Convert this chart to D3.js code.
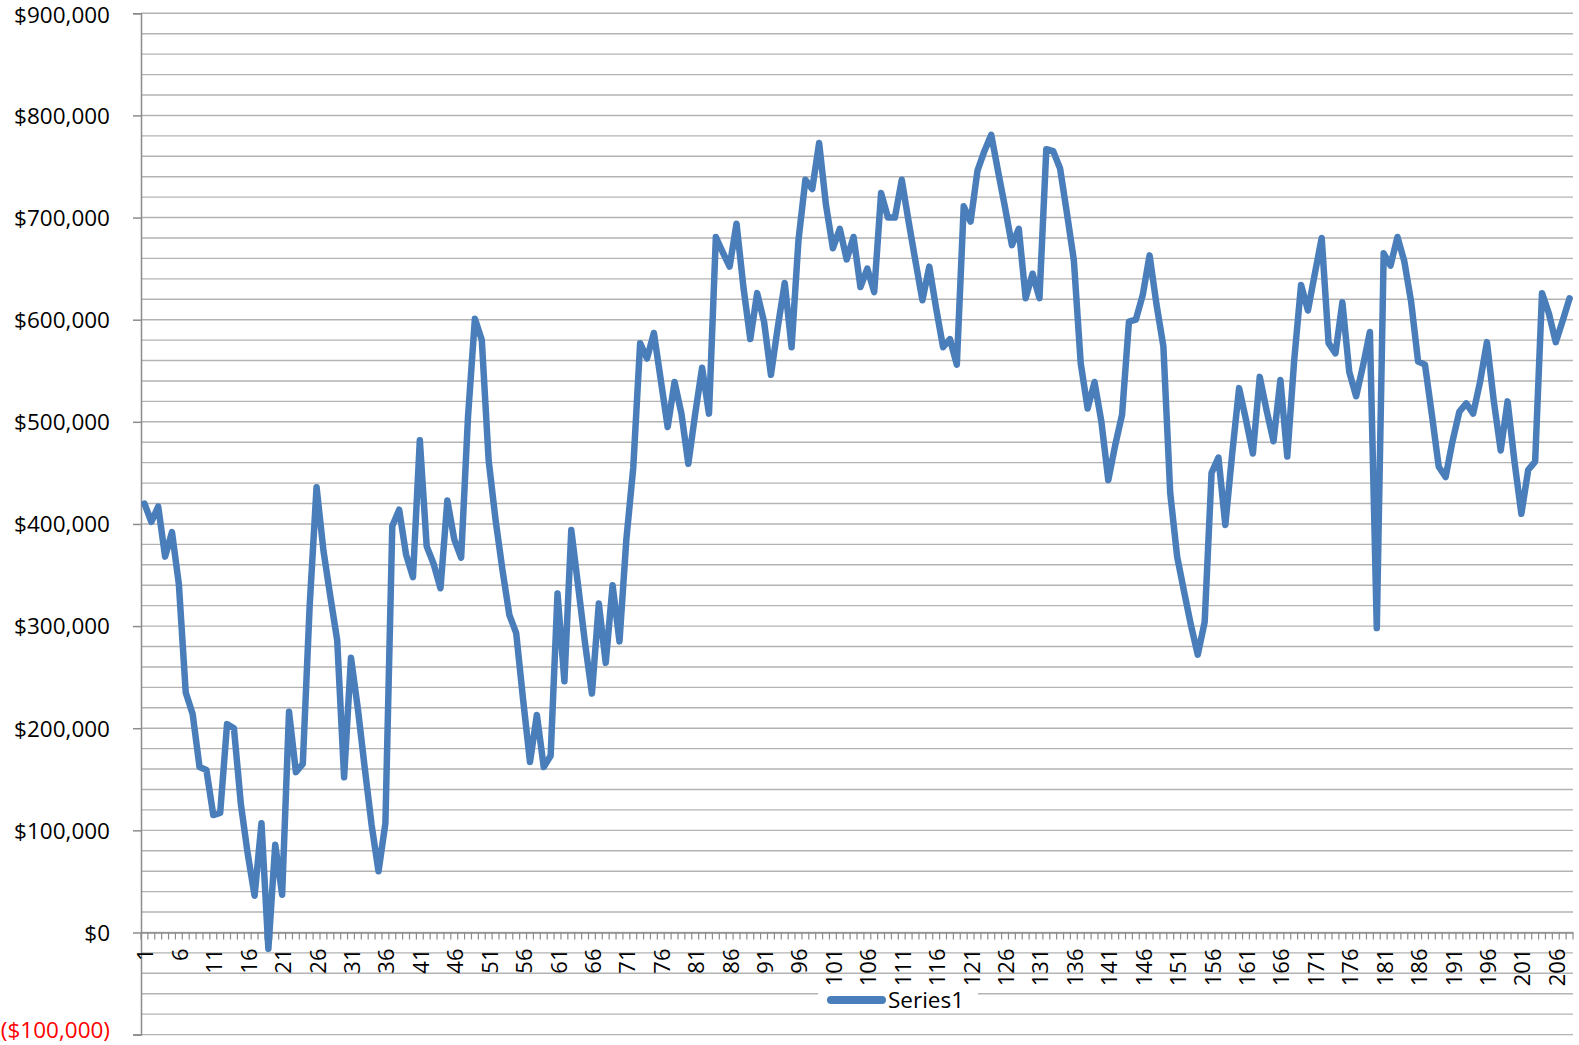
<!DOCTYPE html>
<html>
<head>
<meta charset="utf-8">
<script src="https://cdn.jsdelivr.net/npm/d3@7"></script>
<style>
  html, body { margin: 0; padding: 0; background: #fff; }
  svg { display: block; }
  text { font-family: "Open Sans", "Noto Sans", sans-serif; }
</style>
</head>
<body>
<svg id="chart" width="1579" height="1045"></svg>
<script>
// ---- data ----
const seriesName = "Series1";
const categories = d3.range(1, 209);
const series1 = [
  420000, 402000, 417000, 368000, 392000, 341000, 235000, 214000, 162000, 159000,
  115000, 117000, 204000, 200000, 126000, 77000, 36000, 107000, -16000, 86000,
  37000, 216000, 157000, 165000, 320000, 436000, 374000, 329000, 286000, 152000,
  269000, 219000, 161000, 105000, 60000, 107000, 398000, 414000, 370000, 348000,
  482000, 378000, 361000, 337000, 423000, 385000, 367000, 505000, 601000, 580000,
  462000, 404000, 355000, 311000, 293000, 228000, 167000, 213000, 162000, 173000,
  332000, 246000, 394000, 339000, 283000, 234000, 322000, 264000, 340000, 285000,
  385000, 455000, 577000, 562000, 587000, 541000, 495000, 539000, 508000, 459000,
  508000, 553000, 508000, 681000, 666000, 652000, 694000, 632000, 581000, 626000,
  598000, 546000, 593000, 636000, 573000, 678000, 737000, 728000, 773000, 712000,
  670000, 689000, 659000, 681000, 632000, 650000, 627000, 724000, 700000, 700000,
  737000, 696000, 657000, 619000, 652000, 611000, 573000, 581000, 556000, 711000,
  696000, 746000, 765000, 781000, 745000, 710000, 673000, 689000, 621000, 645000,
  621000, 767000, 765000, 748000, 704000, 658000, 557000, 513000, 539000, 500000,
  443000, 477000, 507000, 598000, 600000, 624000, 663000, 615000, 574000, 430000,
  368000, 334000, 301000, 272000, 304000, 450000, 465000, 399000, 469000, 533000,
  502000, 469000, 544000, 511000, 481000, 541000, 466000, 560000, 634000, 609000,
  645000, 680000, 577000, 567000, 617000, 549000, 525000, 555000, 588000, 298000,
  665000, 653000, 681000, 657000, 617000, 559000, 556000, 507000, 456000, 446000,
  481000, 510000, 518000, 508000, 539000, 578000, 520000, 472000, 520000, 461000,
  410000, 453000, 461000, 626000, 606000, 578000, 599000, 621000
];
const xTickLabels = [1, 6, 11, 16, 21, 26, 31, 36, 41, 46, 51, 56, 61, 66, 71, 76, 81, 86, 91, 96,
  101, 106, 111, 116, 121, 126, 131, 136, 141, 146, 151, 156, 161, 166, 171, 176, 181, 186, 191, 196, 201, 206];
const yMajorTicks = [-100000, 0, 100000, 200000, 300000, 400000, 500000, 600000, 700000, 800000, 900000];
const yGridStep = 20000;

(function () {
// ---- layout ----
const plotLeft = 141, plotRight = 1573, plotTop = 13.3, plotBottom = 1034.6;
const svg = d3.select("#chart");

const x = d3.scaleBand().domain(categories).range([plotLeft, plotRight]).padding(0);
const y = d3.scaleLinear().domain([-100000, 900000]).range([plotBottom, plotTop]);
const cx = d => x(d) + x.bandwidth() / 2;

const fmt = v => v < 0 ? "($" + d3.format(",")(-v) + ")" : "$" + d3.format(",")(v);

// gridlines (every 20,000)
const gridVals = d3.range(-100000, 900001, yGridStep);
svg.append("g")
  .selectAll("line").data(gridVals).join("line")
  .attr("x1", plotLeft).attr("x2", plotRight)
  .attr("y1", d => y(d)).attr("y2", d => y(d))
  .attr("stroke", "#b3b3b3").attr("stroke-width", 1.4);

// y axis
const yAxis = d3.axisLeft(y).tickValues(yMajorTicks).tickSize(8).tickFormat(fmt);
const gy = svg.append("g").attr("transform", `translate(${plotLeft},0)`).call(yAxis);
gy.select(".domain").attr("stroke", "#8c8c8c").attr("stroke-width", 1.5);
gy.selectAll(".tick line").attr("stroke", "#8c8c8c").attr("stroke-width", 1.5);
gy.selectAll(".tick text")
  .attr("x", -31)
  .attr("dy", d => d === 900000 ? "0.42em" : (d < 0 ? "0.15em" : "0.35em"))
  .attr("font-size", 22.5)
  .attr("font-family", "'Open Sans', sans-serif")
  .attr("fill", d => d < 0 ? "#ff0000" : "#000");

// x axis at zero
const xAxis = d3.axisBottom(x).tickSize(0).tickFormat("");
const gx = svg.append("g").attr("transform", `translate(0,${y(0)})`).call(xAxis);
gx.select(".domain").attr("stroke", "#8c8c8c").attr("stroke-width", 1.5);
// minor tick marks at category boundaries
const bounds = categories.map(c => x(c)).concat([plotRight]);
gx.append("g").selectAll("line").data(bounds).join("line")
  .attr("x1", d => d).attr("x2", d => d)
  .attr("y1", 0).attr("y2", 7)
  .attr("stroke", "#8c8c8c").attr("stroke-width", 1.2);
// rotated labels
gx.append("g").selectAll("text").data(xTickLabels).join("text")
  .attr("transform", d => `translate(${cx(d)},16) rotate(-90)`)
  .attr("text-anchor", "end")
  .attr("dominant-baseline", "central")
  .attr("font-size", 22)
  .attr("fill", "#000")
  .text(d => d);

// series line
const line = d3.line()
  .x((d, i) => cx(categories[i]))
  .y(d => y(d));
svg.append("path")
  .datum(series1)
  .attr("d", line)
  .attr("fill", "none")
  .attr("stroke", "#4a7ebb")
  .attr("stroke-width", 6.5)
  .attr("stroke-linejoin", "round")
  .attr("stroke-linecap", "round");

// legend
const lg = svg.append("g");
lg.append("rect").attr("x", 818).attr("y", 985).attr("width", 160).attr("height", 26).attr("fill", "#fff");
lg.append("line").attr("x1", 831).attr("x2", 882).attr("y1", 1000).attr("y2", 1000)
  .attr("stroke", "#4a7ebb").attr("stroke-width", 8).attr("stroke-linecap", "round");
lg.append("text").attr("x", 888).attr("y", 1000).attr("dy", "0.35em")
  .attr("font-size", 22.5).attr("fill", "#000").text(seriesName);
})();
</script>
</body>
</html>
